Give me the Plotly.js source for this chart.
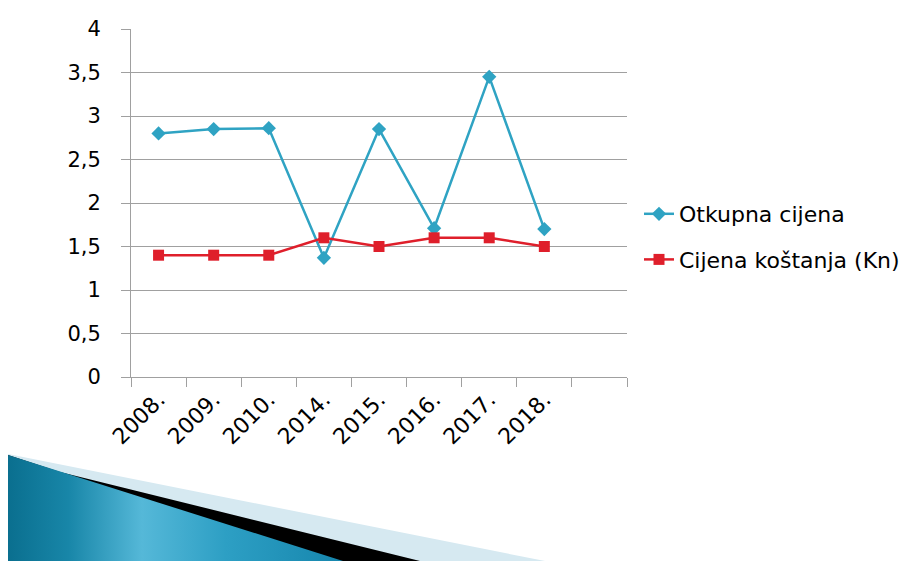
<!DOCTYPE html>
<html>
<head>
<meta charset="utf-8">
<script src="https://cdn.plot.ly/plotly-3.0.1.min.js"></script>
<style>html,body{margin:0;padding:0;background:#fff;}#chart{width:911px;height:561px;}</style>
</head>
<body>
<div id="chart"></div>
<script>
// Data
const categories = ['2008.', '2009.', '2010.', '2014.', '2015.', '2016.', '2017.', '2018.'];
const axisSlots = ['2008.', '2009.', '2010.', '2014.', '2015.', '2016.', '2017.', '2018.', ' '];
const otkupnaCijena = [2.80, 2.85, 2.86, 1.37, 2.85, 1.71, 3.45, 1.70];
const cijenaKostanja = [1.4, 1.4, 1.4, 1.6, 1.5, 1.6, 1.6, 1.5];
const seriesNames = ['Otkupna cijena', 'Cijena koštanja (Kn)'];
const yTicks = [0, 0.5, 1, 1.5, 2, 2.5, 3, 3.5, 4];

const W = 911, H = 561;
const L = 131, R = 627, T = 29, B = 377;
const FONT = '"DejaVu Sans", Verdana, sans-serif';

// decorative banner (bottom-left), drawn as an SVG image
const svg = `<svg xmlns="http://www.w3.org/2000/svg" width="911" height="121" viewBox="0 0 911 121" preserveAspectRatio="none">
<defs><linearGradient id="g" x1="0" y1="0" x2="1" y2="0">
<stop offset="0" stop-color="#0a6f8f"/>
<stop offset="0.18" stop-color="#1886a8"/>
<stop offset="0.40" stop-color="#55b8d8"/>
<stop offset="0.65" stop-color="#2d9fc4"/>
<stop offset="1" stop-color="#1686ad"/>
</linearGradient></defs>
<polygon points="8,14 545,121 8,121" fill="#d6e9f1"/>
<polygon points="8,15 60,32 420,121 8,121" fill="#000000"/>
<polygon points="8,15 343,121 8,121" fill="url(#g)"/>
</svg>`;
const svgUri = 'data:image/svg+xml;charset=utf-8,' + encodeURIComponent(svg);

const pw = R - L, ph = B - T;
const px2x = p => (p - L) / pw;
const px2y = p => (B - p) / ph;

const traces = [
  {
    x: categories, y: otkupnaCijena, name: seriesNames[0], type: 'scatter', mode: 'lines+markers',
    line: {color: '#2fa3c3', width: 2.5},
    marker: {symbol: 'diamond', size: 11, color: '#2fa3c3'},
    legendgroup: 'a'
  },
  {
    x: categories, y: cijenaKostanja, name: seriesNames[1], type: 'scatter', mode: 'lines+markers',
    line: {color: '#df1f2b', width: 2.5},
    marker: {symbol: 'square', size: 11, color: '#df1f2b'},
    legendgroup: 'b'
  }
];

const layout = {
  width: W, height: H,
  margin: {l: L, r: W - R, t: T, b: H - B, pad: 0, autoexpand: false},
  paper_bgcolor: '#ffffff', plot_bgcolor: '#ffffff',
  separators: ', ',
  font: {family: FONT, size: 20, color: '#000000'},
  showlegend: true,
  legend: {
    x: px2x(639), y: px2y(237), xanchor: 'left', yanchor: 'middle',
    font: {family: FONT, size: 22, color: '#000'},
    tracegroupgap: 14, itemwidth: 30, bgcolor: 'rgba(0,0,0,0)'
  },
  xaxis: {
    type: 'category', categoryorder: 'array', categoryarray: axisSlots,
    range: [-0.5, 8.5], tickson: 'boundaries', automargin: false,
    ticks: 'outside', ticklen: 9, tickcolor: '#a0a0a0', tickwidth: 1,
    tickangle: -45, showgrid: false, zeroline: false,
    showline: true, linecolor: '#a0a0a0', linewidth: 1,
    tickfont: {family: FONT, size: 22, color: '#000'},
    fixedrange: true
  },
  yaxis: {
    range: [0, 4], tickvals: yTicks, tickformat: '.1~f', automargin: false,
    ticks: 'outside', ticklen: 9, tickcolor: '#a0a0a0', tickwidth: 1,
    showgrid: true, gridcolor: '#a0a0a0', gridwidth: 1, zeroline: false,
    showline: true, linecolor: '#a0a0a0', linewidth: 1,
    ticklabelstandoff: 16,
    tickfont: {family: FONT, size: 21, color: '#000'},
    fixedrange: true
  },
  images: [{
    source: svgUri, xref: 'paper', yref: 'paper',
    x: px2x(0), y: px2y(440), sizex: W / pw, sizey: 121 / ph,
    xanchor: 'left', yanchor: 'top', sizing: 'stretch', layer: 'below'
  }]
};

Plotly.newPlot('chart', traces, layout, {staticPlot: true, displayModeBar: false});
</script>
</body>
</html>
